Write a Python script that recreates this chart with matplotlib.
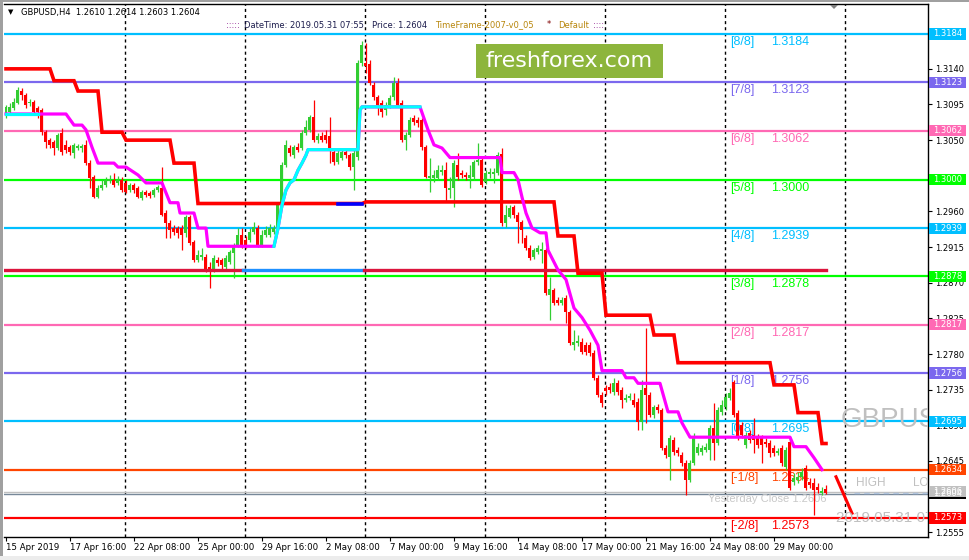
import numpy as np
import matplotlib.pyplot as plt
from matplotlib.patches import Rectangle, Polygon
from matplotlib.transforms import Affine2D, blended_transform_factory, offset_copy

# GBPUSD H4 candles, 15 Apr 2019 00:00 .. 31 May 2019 04:00
opens = [1.3082, 1.3086, 1.3091, 1.3097, 1.3112, 1.3107, 1.3097, 1.3098, 1.3091, 1.3088,
         1.3060, 1.3050, 1.3048, 1.3040, 1.3059, 1.3044, 1.3041, 1.3034, 1.3040, 1.3040,
         1.3044, 1.3021, 1.3004, 1.2978, 1.2990, 1.2993, 1.2998, 1.3000, 1.2996, 1.3000,
         1.2996, 1.2987, 1.2993, 1.2990, 1.2977, 1.2985, 1.2983, 1.2981, 1.2987, 1.2990,
         1.2958, 1.2945, 1.2939, 1.2939, 1.2939, 1.2933, 1.2953, 1.2922, 1.2899, 1.2903,
         1.2903, 1.2890, 1.2886, 1.2899, 1.2899, 1.2890, 1.2896, 1.2908, 1.2918, 1.2930,
         1.2924, 1.2924, 1.2934, 1.2939, 1.2918, 1.2930, 1.2930, 1.2934, 1.2939, 1.2968,
         1.3019, 1.3040, 1.3031, 1.3041, 1.3040, 1.3059, 1.3063, 1.3079, 1.3050, 1.3055,
         1.3057, 1.3055, 1.3035, 1.3022, 1.3028, 1.3035, 1.3031, 1.3016, 1.3029, 1.3147,
         1.3147, 1.3146, 1.3120, 1.3105, 1.3097, 1.3088, 1.3094, 1.3105, 1.3122, 1.3097,
         1.3050, 1.3057, 1.3078, 1.3076, 1.3076, 1.3041, 1.3002, 1.3002, 1.3002, 1.3010,
         1.3012, 1.2987, 1.2990, 1.3019, 1.3009, 1.3006, 1.3002, 1.3004, 1.3022, 1.3025,
         1.2997, 1.3007, 1.3007, 1.3009, 1.3033, 1.2945, 1.2953, 1.2966, 1.2956, 1.2947,
         1.2926, 1.2914, 1.2903, 1.2909, 1.2910, 1.2911, 1.2855, 1.2861, 1.2848, 1.2844,
         1.2851, 1.2833, 1.2791, 1.2794, 1.2795, 1.2791, 1.2791, 1.2781, 1.2750, 1.2728,
         1.2737, 1.2738, 1.2732, 1.2743, 1.2735, 1.2722, 1.2725, 1.2722, 1.2719, 1.2694,
         1.2737, 1.2728, 1.2703, 1.2713, 1.2709, 1.2661, 1.2650, 1.2672, 1.2659, 1.2653,
         1.2643, 1.2621, 1.2643, 1.2655, 1.2656, 1.2659, 1.2659, 1.2687, 1.2668, 1.2707,
         1.2713, 1.2725, 1.2745, 1.2706, 1.2690, 1.2665, 1.2680, 1.2678, 1.2675, 1.2674,
         1.2669, 1.2668, 1.2661, 1.2655, 1.2661, 1.2637, 1.2669, 1.2619, 1.2621, 1.2625,
         1.2636, 1.2619, 1.2617, 1.2612, 1.2605, 1.2610]
highs = [1.3094, 1.3097, 1.3103, 1.3117, 1.3116, 1.3110, 1.3102, 1.3101, 1.3093, 1.3091,
         1.3063, 1.3053, 1.3050, 1.3059, 1.3065, 1.3050, 1.3044, 1.3046, 1.3045, 1.3045,
         1.3050, 1.3025, 1.3006, 1.2993, 1.3000, 1.3004, 1.3006, 1.3009, 1.3005, 1.3004,
         1.3000, 1.2996, 1.2996, 1.2992, 1.2987, 1.2987, 1.2986, 1.2990, 1.2993, 1.3016,
         1.2962, 1.2949, 1.2943, 1.2942, 1.2943, 1.2956, 1.2956, 1.2924, 1.2911, 1.2914,
         1.2906, 1.2896, 1.2905, 1.2903, 1.2901, 1.2905, 1.2911, 1.2920, 1.2939, 1.2939,
         1.2929, 1.2939, 1.2947, 1.2943, 1.2937, 1.2942, 1.2944, 1.2943, 1.2971, 1.3022,
         1.3050, 1.3044, 1.3044, 1.3046, 1.3063, 1.3076, 1.3082, 1.3101, 1.3059, 1.3060,
         1.3063, 1.3079, 1.3040, 1.3038, 1.3039, 1.3038, 1.3034, 1.3038, 1.3151, 1.3175,
         1.3173, 1.3151, 1.3123, 1.3107, 1.3101, 1.3098, 1.3107, 1.3130, 1.3129, 1.3101,
         1.3060, 1.3079, 1.3082, 1.3079, 1.3078, 1.3044, 1.3028, 1.3012, 1.3019, 1.3019,
         1.3022, 1.3004, 1.3025, 1.3034, 1.3012, 1.3010, 1.3019, 1.3025, 1.3046, 1.3028,
         1.3012, 1.3015, 1.3015, 1.3035, 1.3040, 1.2968, 1.2968, 1.2968, 1.2959, 1.2949,
         1.2930, 1.2918, 1.2914, 1.2918, 1.2922, 1.2914, 1.2877, 1.2863, 1.2852, 1.2852,
         1.2855, 1.2836, 1.2810, 1.2804, 1.2800, 1.2795, 1.2795, 1.2785, 1.2754, 1.2732,
         1.2741, 1.2743, 1.2750, 1.2747, 1.2738, 1.2730, 1.2731, 1.2731, 1.2725, 1.2747,
         1.2813, 1.2732, 1.2716, 1.2717, 1.2712, 1.2665, 1.2678, 1.2675, 1.2663, 1.2656,
         1.2646, 1.2646, 1.2680, 1.2668, 1.2665, 1.2668, 1.2690, 1.2718, 1.2713, 1.2722,
         1.2731, 1.2737, 1.2747, 1.2709, 1.2694, 1.2682, 1.2684, 1.2699, 1.2679, 1.2678,
         1.2674, 1.2672, 1.2665, 1.2661, 1.2665, 1.2663, 1.2675, 1.2630, 1.2631, 1.2636,
         1.2640, 1.2624, 1.2624, 1.2617, 1.2612, 1.2614]
lows = [1.3078, 1.3083, 1.3088, 1.3096, 1.3101, 1.3091, 1.3093, 1.3083, 1.3078, 1.3057,
        1.3040, 1.3040, 1.3031, 1.3038, 1.3031, 1.3034, 1.3031, 1.3028, 1.3038, 1.3035,
        1.3019, 1.2990, 1.2977, 1.2977, 1.2987, 1.2991, 1.2996, 1.2991, 1.2993, 1.2985,
        1.2983, 1.2985, 1.2983, 1.2977, 1.2975, 1.2978, 1.2977, 1.2978, 1.2985, 1.2954,
        1.2926, 1.2926, 1.2930, 1.2926, 1.2911, 1.2928, 1.2918, 1.2896, 1.2896, 1.2899,
        1.2884, 1.2863, 1.2884, 1.2891, 1.2886, 1.2886, 1.2894, 1.2876, 1.2915, 1.2914,
        1.2914, 1.2922, 1.2932, 1.2915, 1.2915, 1.2928, 1.2928, 1.2932, 1.2937, 1.2966,
        1.3016, 1.3030, 1.3028, 1.3035, 1.3038, 1.3057, 1.3060, 1.3048, 1.3046, 1.3048,
        1.3046, 1.3021, 1.3019, 1.3020, 1.3025, 1.3028, 1.3012, 1.2987, 1.3025, 1.3144,
        1.3135, 1.3120, 1.3101, 1.3082, 1.3079, 1.3082, 1.3091, 1.3101, 1.3092, 1.3048,
        1.3038, 1.3054, 1.3069, 1.3067, 1.3038, 1.3002, 1.2985, 1.2997, 1.3000, 1.3006,
        1.2972, 1.2977, 1.2966, 1.3000, 1.3002, 1.3000, 1.2990, 1.3000, 1.3019, 1.2991,
        1.2995, 1.3002, 1.2996, 1.3006, 1.2942, 1.2940, 1.2952, 1.2952, 1.2920, 1.2920,
        1.2911, 1.2899, 1.2900, 1.2906, 1.2895, 1.2855, 1.2823, 1.2842, 1.2842, 1.2842,
        1.2819, 1.2791, 1.2785, 1.2790, 1.2780, 1.2779, 1.2778, 1.2747, 1.2726, 1.2713,
        1.2728, 1.2731, 1.2728, 1.2728, 1.2712, 1.2719, 1.2722, 1.2713, 1.2684, 1.2684,
        1.2693, 1.2701, 1.2699, 1.2706, 1.2659, 1.2649, 1.2621, 1.2653, 1.2651, 1.2639,
        1.2602, 1.2619, 1.2640, 1.2653, 1.2653, 1.2656, 1.2646, 1.2646, 1.2665, 1.2703,
        1.2709, 1.2722, 1.2701, 1.2672, 1.2674, 1.2661, 1.2668, 1.2655, 1.2661, 1.2643,
        1.2663, 1.2650, 1.2651, 1.2653, 1.2639, 1.2634, 1.2608, 1.2615, 1.2617, 1.2621,
        1.2608, 1.2611, 1.2577, 1.2605, 1.2602, 1.2603]
closes = [1.3092, 1.3092, 1.3098, 1.3113, 1.3107, 1.3094, 1.3098, 1.3086, 1.3086, 1.3060,
          1.3048, 1.3044, 1.3040, 1.3057, 1.3035, 1.3038, 1.3035, 1.3044, 1.3043, 1.3043,
          1.3021, 1.3002, 1.2978, 1.2990, 1.2993, 1.3000, 1.3001, 1.2993, 1.3000, 1.2987,
          1.2985, 1.2993, 1.2987, 1.2978, 1.2985, 1.2981, 1.2980, 1.2987, 1.2991, 1.2956,
          1.2945, 1.2937, 1.2934, 1.2933, 1.2930, 1.2953, 1.2920, 1.2899, 1.2905, 1.2905,
          1.2886, 1.2886, 1.2901, 1.2895, 1.2892, 1.2901, 1.2909, 1.2918, 1.2930, 1.2918,
          1.2918, 1.2934, 1.2940, 1.2918, 1.2930, 1.2937, 1.2939, 1.2939, 1.2968, 1.3019,
          1.3044, 1.3034, 1.3041, 1.3038, 1.3059, 1.3067, 1.3079, 1.3050, 1.3055, 1.3050,
          1.3050, 1.3040, 1.3022, 1.3034, 1.3035, 1.3031, 1.3016, 1.3034, 1.3147, 1.3170,
          1.3144, 1.3122, 1.3105, 1.3094, 1.3086, 1.3094, 1.3103, 1.3122, 1.3094, 1.3050,
          1.3057, 1.3076, 1.3073, 1.3072, 1.3041, 1.3004, 1.3005, 1.3006, 1.3012, 1.3012,
          1.2990, 1.2990, 1.3021, 1.3004, 1.3006, 1.3004, 1.3006, 1.3022, 1.3025, 1.2993,
          1.3009, 1.3010, 1.3010, 1.3031, 1.2945, 1.2956, 1.2964, 1.2956, 1.2947, 1.2937,
          1.2914, 1.2901, 1.2911, 1.2914, 1.2913, 1.2857, 1.2862, 1.2844, 1.2844, 1.2848,
          1.2833, 1.2794, 1.2795, 1.2796, 1.2783, 1.2783, 1.2781, 1.2750, 1.2728, 1.2718,
          1.2733, 1.2735, 1.2743, 1.2732, 1.2722, 1.2725, 1.2727, 1.2716, 1.2694, 1.2735,
          1.2728, 1.2703, 1.2713, 1.2709, 1.2661, 1.2653, 1.2674, 1.2656, 1.2655, 1.2643,
          1.2621, 1.2643, 1.2675, 1.2663, 1.2661, 1.2663, 1.2687, 1.2668, 1.2709, 1.2716,
          1.2726, 1.2731, 1.2703, 1.2675, 1.2678, 1.2678, 1.2672, 1.2672, 1.2665, 1.2665,
          1.2666, 1.2655, 1.2655, 1.2658, 1.2643, 1.2659, 1.2611, 1.2624, 1.2625, 1.2631,
          1.2611, 1.2615, 1.2608, 1.2608, 1.2607, 1.2604]

# stepped stop line (red): first bar of each level and the level
stop_starts = [0, 12, 18, 24, 30, 42, 48, 90, 138, 143, 150, 162, 168, 192, 198, 204]
stop_levels = [1.3140, 1.3125, 1.3112, 1.3060, 1.3050, 1.3021, 1.2970, 1.2972,
               1.2929, 1.2882, 1.2829, 1.2804, 1.2769, 1.2741, 1.2706, 1.2667]
stop_blue = (83, 89)

# trailing line (magenta, cyan while rising)
trail_bars = [0, 8, 15, 17, 19, 20, 21.5, 23, 27, 28, 30, 33, 35, 39, 41, 43, 43.5, 47, 48, 50,
              50.5, 67, 68, 69, 70, 71, 72, 73, 74, 75, 75.5, 88, 88.5, 89, 103.5, 105.5, 107,
              109, 111, 123.5, 124, 127, 128, 129, 130, 131.5, 133.5, 135, 135.5, 138, 140,
              142, 144, 146, 148, 149, 154, 155, 157, 158, 163.5, 165.5, 168, 169, 171, 196,
              197, 200, 202, 204]
trail_prices = [1.3083, 1.3083, 1.3083, 1.3069, 1.3069, 1.3063, 1.3041, 1.3021, 1.3021, 1.3016,
                1.3016, 1.3006, 1.2996, 1.2996, 1.2971, 1.2971, 1.2958, 1.2958, 1.2939, 1.2939,
                1.2916, 1.2916, 1.2939, 1.2968, 1.2987, 1.2996, 1.3000, 1.3012, 1.3021, 1.3031,
                1.3038, 1.3038, 1.3088, 1.3092, 1.3092, 1.3063, 1.3044, 1.3040, 1.3028, 1.3028,
                1.3009, 1.3009, 1.3000, 1.2978, 1.2958, 1.2939, 1.2933, 1.2933, 1.2911, 1.2886,
                1.2874, 1.2838, 1.2826, 1.2810, 1.2791, 1.2759, 1.2759, 1.2750, 1.2750, 1.2743,
                1.2743, 1.2707, 1.2707, 1.2693, 1.2675, 1.2675, 1.2663, 1.2663, 1.2649, 1.2634]
trail_up = [(0, 8), (67, 103.5)]

# horizontal level (crimson, blue part)
level_price = 1.2886
level_end = 205
level_blue = (59.25, 89.5)

# Murrey math levels
mm_labels = ['[8/8]', '[7/8]', '[6/8]', '[5/8]', '[4/8]', '[3/8]', '[2/8]', '[1/8]',
             '[0/8]', '[-1/8]', '[-2/8]']
mm_prices = [1.3184, 1.3123, 1.3062, 1.3000, 1.2939, 1.2878, 1.2817, 1.2756,
             1.2695, 1.2634, 1.2573]
mm_colors = ['#00bfff', '#7b68ee', '#ff69b4', '#00ff00', '#00bfff', '#00ff00', '#ff69b4',
             '#7b68ee', '#00bfff', '#ff4500', '#ff0000']

yesterday_close = 1.2606
forecast_bars = [207.5, 211.5]
forecast_prices = [1.2625, 1.2579]

x_tick_bars = [0, 16, 32, 48, 64, 80, 96, 112, 128, 144, 160, 176, 192]
x_tick_labels = ['15 Apr 2019', '17 Apr 16:00', '22 Apr 08:00', '25 Apr 00:00', '29 Apr 16:00',
                 '2 May 08:00', '7 May 00:00', '9 May 16:00', '14 May 08:00', '17 May 00:00',
                 '21 May 16:00', '24 May 08:00', '29 May 00:00']
# scale ticks hidden under the price boxes
hidden_ticks = [1.3185, 1.3005, 1.2600]

W, H = 970, 560
fig = plt.figure(figsize=(W / 100, H / 100), dpi=100)
ax = fig.add_axes([4 / W, 1 - 537 / H, 924 / W, 533 / H])
ax.set_xlim(-0.5, 230.5)
ax.set_ylim(1.254898, 1.322187)

# pixel coordinates, origin top left
px = Affine2D().scale(1 / W, -1 / H).translate(0, 1) + fig.transFigure

for s in ['top', 'right', 'bottom']:
    ax.spines[s].set_color('black')
    ax.spines[s].set_linewidth(1)
ax.spines['left'].set_visible(False)

# week separators
for xv in np.arange(29.75, 230, 30):
    ax.axvline(xv, color='black', lw=1, ls=(0, (2.2, 2.2)), zorder=0.5)

# murrey lines and labels
lab_tr = offset_copy(ax.transData, fig=fig, x=0, y=-2, units='dots')
for lab, p, colr in zip(mm_labels, mm_prices, mm_colors):
    ax.axhline(p, color=colr, lw=1.6, zorder=1)
    ax.text(181, p, lab, color=colr, fontsize=9, family='Liberation Sans',
            va='top', ha='left', transform=lab_tr, zorder=1.2)
    ax.text(191.25, p, '%.4f' % p, color=colr, fontsize=9, family='Liberation Sans',
            va='top', ha='left', transform=lab_tr, zorder=1.2)

ax.axhline(yesterday_close, color='#c0c0c0', lw=1, zorder=1)
ax.axhline(closes[-1] - 0.0001, color='#778899', lw=1, zorder=1)
ax.plot([212, 231], [yesterday_close - 0.0001] * 2, color='#b0c4de', lw=1,
        ls=(0, (4, 3)), zorder=1.1)

# candles
x = np.arange(len(opens))
o, h, l, c = (np.array(v) for v in (opens, highs, lows, closes))
col = np.where(c >= o, '#32cd32', '#ff0000')
ax.vlines(x, l, h, colors=col, lw=0.9, zorder=2)
ax.bar(x, np.maximum(np.abs(c - o), 0.0001), bottom=np.minimum(o, c), width=0.75,
       color=col, lw=0, zorder=2.1)

# horizontal level
ax.plot([-0.5, level_blue[0]], [level_price] * 2, color='#dc143c', lw=2.4, zorder=3)
ax.plot(list(level_blue), [level_price] * 2, color='#1e90ff', lw=2.4, zorder=3)
ax.plot([level_blue[1], level_end], [level_price] * 2, color='#dc143c', lw=2.4, zorder=3)

# stop line
stop_vals = np.repeat(stop_levels, np.diff(stop_starts + [len(opens)]))
ax.plot(x, stop_vals, color='#ff0000', lw=2.6, zorder=3.2, solid_joinstyle='miter')
b0, b1 = stop_blue
ax.plot(x[b0:b1 + 1], stop_vals[b0:b1 + 1], color='#0000ff', lw=2.6, zorder=3.3)

# trailing line
tb = np.array(trail_bars)
tp = np.array(trail_prices)
ax.plot(tb, tp, color='#ff00ff', lw=2.3, zorder=3.4)
for a, b in trail_up:
    m = (tb >= a) & (tb <= b)
    ax.plot(tb[m], tp[m], color='#00ffff', lw=2.3, zorder=3.5)

ax.plot(forecast_bars, forecast_prices, color='#ff0000', lw=2.2, zorder=3.5)

# overlay texts (clipped to chart)
ax.text(841, 420, 'GBPUSD', transform=px, fontsize=20, family='Liberation Sans',
        color='#c0c0c0', va='center', ha='left', clip_on=True, zorder=4)
ax.text(856, 483, 'HIGH', transform=px, fontsize=8.5, family='Liberation Sans',
        color='#c0c0c0', va='center', ha='left', clip_on=True, zorder=4)
ax.text(913, 483, 'LOW', transform=px, fontsize=8.5, family='Liberation Sans',
        color='#c0c0c0', va='center', ha='left', clip_on=True, zorder=4)
ax.text(836, 518, '2019.05.31 07:55', transform=px, fontsize=11, family='Liberation Sans',
        color='#c0c0c0', va='center', ha='left', clip_on=True, zorder=4)
ax.text(708, 499, 'Yesterday Close %.4f' % yesterday_close, transform=px, fontsize=8,
        family='Liberation Sans', color='#c8c8c8', va='center', ha='left', zorder=1.3)

# right axis
yt = np.round(np.arange(1.2555, 1.3186, 0.0045), 4)
ax.yaxis.tick_right()
ax.set_yticks(yt)
ax.set_yticklabels(['' if v in hidden_ticks else '%.4f' % v for v in yt], family='DejaVu Sans')
ax.tick_params(axis='y', labelsize=6, length=3, width=0.8, pad=2, colors='black')
ax.set_xticks(x_tick_bars)
ax.set_xticklabels(x_tick_labels, ha='left', family='DejaVu Sans')
ax.tick_params(axis='x', labelsize=6.2, length=3, width=0.8, pad=1.5)

# price boxes on the scale
box_tr = blended_transform_factory(px, ax.transData)
bh = 0.0014
boxes = [(closes[-1], '#000000')] + list(zip(mm_prices, mm_colors)) + [(yesterday_close, '#c0c0c0')]
for p, colr in boxes:
    ax.add_patch(Rectangle((929, p - bh / 2), 37, bh, transform=box_tr, facecolor=colr,
                           edgecolor='none', clip_on=False, zorder=10))
    ax.text(933, p, '%.4f' % p, transform=box_tr, color='white', fontsize=6,
            family='DejaVu Sans', va='center', ha='left', clip_on=False, zorder=11)

# header
fig.text(8, 12, '\u25bc', transform=px, fontsize=5, va='center', ha='left', color='black')
fig.text(21, 12, 'GBPUSD,H4  %.4f %.4f %.4f %.4f' % (opens[-1], highs[-1], lows[-1], closes[-1]),
         transform=px, fontsize=6, va='center', ha='left', color='black')
hdr = [(226, ':::::', '#800080'), (244, 'DateTime: 2019.05.31 07:55', '#1c1c4c'),
       (372, 'Price: %.4f' % closes[-1], '#1c1c4c'), (435, 'TimeFrame-2007-v0_05', '#b8860b'),
       (547, '*', '#800000'), (558, 'Default', '#b8860b'), (593, '::::', '#800080')]
for xp, s, colr in hdr:
    fig.text(xp, 25, s, transform=px, fontsize=6, va='center', ha='left', color=colr)

fig.patches.append(Polygon([(830, 5), (838, 5), (834, 9)], closed=True, transform=px,
                           facecolor='#808080', edgecolor='none'))

# watermark
fig.patches.append(Rectangle((476, 78), 187, -34, transform=px, facecolor='#8db53c',
                             edgecolor='none', zorder=5))
fig.text(569.5, 61, 'freshforex.com', transform=px, fontsize=16, color='white',
         va='center', ha='center', zorder=6)

# window edges
fig.patches.append(Rectangle((0, 0), 3, H, transform=px, facecolor='#a0a0a0', edgecolor='none'))
fig.patches.append(Rectangle((0, 0), W, 2, transform=px, facecolor='#a0a0a0', edgecolor='none'))
fig.patches.append(Rectangle((0, 556), W, 4, transform=px, facecolor='#ececec', edgecolor='none'))

fig.savefig('out.png', dpi=100, facecolor='white')
